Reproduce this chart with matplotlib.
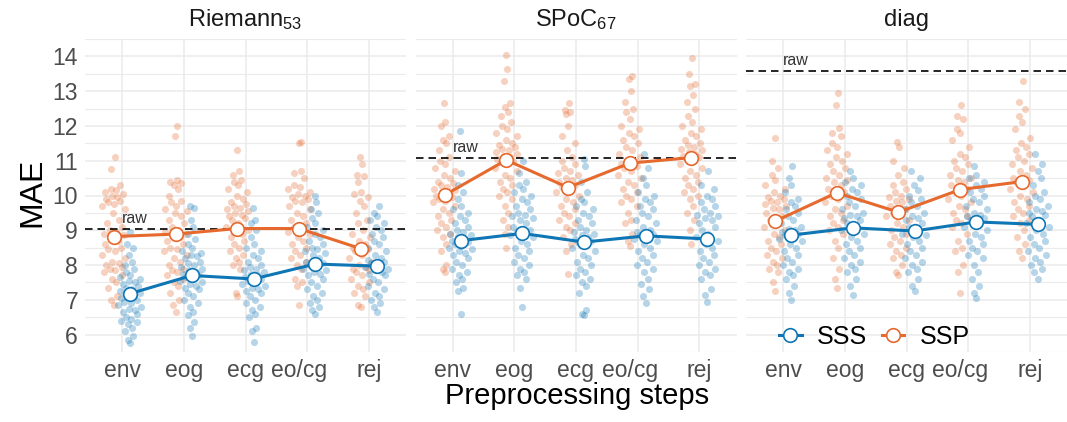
import numpy as np
import matplotlib
matplotlib.use("Agg")
import matplotlib.pyplot as plt
from matplotlib.lines import Line2D
from matplotlib.transforms import ScaledTranslation

plt.rcParams["font.family"] = ["Liberation Sans", "DejaVu Sans"]
plt.rcParams["mathtext.fontset"] = "custom"
plt.rcParams["mathtext.rm"] = "Liberation Sans"
plt.rcParams["mathtext.default"] = "regular"

# ---------------- data ----------------
steps = ["env", "eog", "ecg", "eo/cg", "rej"]
panel_titles = ["Riemann$_{53}$", "SPoC$_{67}$", "diag"]
raw_mae = [9.03, 11.08, 13.58]

mean_sss_riemann = [7.18, 7.70, 7.60, 8.03, 7.97]
mean_ssp_riemann = [8.82, 8.89, 9.05, 9.05, 8.47]
mean_sss_spoc = [8.70, 8.91, 8.66, 8.84, 8.75]
mean_ssp_spoc = [10.01, 11.02, 10.23, 10.93, 11.09]
mean_sss_diag = [8.86, 9.07, 8.98, 9.24, 9.17]
mean_ssp_diag = [9.26, 10.08, 9.52, 10.17, 10.40]

riemann_ssp = [
    [11.1, 10.75, 10.3, 10.2, 10.15, 10.1, 10.05, 10.0, 9.95, 9.9, 9.85, 9.8, 9.75, 9.7, 9.6, 9.5, 9.3, 9.2, 9.1, 9.0, 8.95, 8.9, 8.85, 8.8, 8.7, 8.6, 8.5, 8.45, 8.4, 8.3, 8.2, 8.1, 8.05, 8.0, 7.95, 7.9, 7.85, 7.8, 7.7, 7.6, 7.5, 7.35, 7.1, 7.0, 6.85],
    [12.0, 11.7, 10.45, 10.4, 10.35, 10.3, 10.2, 10.0, 9.85, 9.8, 9.7, 9.6, 9.55, 9.5, 9.4, 9.3, 9.2, 9.1, 9.0, 8.95, 8.9, 8.85, 8.8, 8.7, 8.6, 8.5, 8.45, 8.4, 8.3, 8.2, 8.1, 8.0, 7.9, 7.85, 7.8, 7.7, 7.6, 7.5, 7.4, 7.2, 7.0, 6.85, 6.65],
    [11.3, 10.7, 10.6, 10.45, 10.4, 10.3, 10.2, 10.1, 10.0, 9.9, 9.8, 9.75, 9.7, 9.65, 9.6, 9.55, 9.5, 9.45, 9.4, 9.35, 9.3, 9.2, 9.1, 9.0, 8.95, 8.9, 8.8, 8.7, 8.6, 8.5, 8.4, 8.3, 8.2, 8.1, 8.0, 7.9, 7.2, 7.1],
    [11.55, 11.5, 10.7, 10.65, 10.5, 10.3, 10.25, 10.2, 10.1, 10.05, 10.0, 9.95, 9.9, 9.85, 9.8, 9.7, 9.6, 9.5, 9.4, 9.3, 9.2, 9.1, 9.0, 8.95, 8.9, 8.8, 8.7, 8.6, 8.5, 8.4, 8.3, 8.2, 8.1, 8.0, 7.9, 7.6, 7.5, 7.4, 6.85],
    [11.1, 10.9, 10.6, 10.55, 10.4, 10.1, 10.05, 9.95, 9.85, 9.7, 9.5, 9.3, 9.2, 9.0, 8.9, 8.8, 8.7, 8.6, 8.5, 8.45, 8.4, 8.3, 8.2, 8.1, 8.0, 7.95, 7.9, 7.85, 7.8, 7.7, 7.6, 7.5, 7.4, 7.3, 7.2, 7.1, 6.85, 6.8],
]
riemann_sss = [
    [8.95, 8.6, 8.5, 8.3, 8.1, 8.0, 7.9, 7.8, 7.7, 7.65, 7.6, 7.55, 7.5, 7.45, 7.4, 7.35, 7.3, 7.25, 7.2, 7.15, 7.1, 7.05, 7.0, 6.95, 6.9, 6.85, 6.8, 6.75, 6.7, 6.65, 6.6, 6.5, 6.45, 6.4, 6.35, 6.3, 6.2, 6.1, 5.95, 5.85, 5.75],
    [9.7, 9.65, 9.3, 9.1, 8.9, 8.75, 8.6, 8.5, 8.4, 8.35, 8.3, 8.25, 8.2, 8.1, 8.05, 8.0, 7.95, 7.9, 7.85, 7.8, 7.75, 7.7, 7.65, 7.6, 7.55, 7.5, 7.45, 7.4, 7.35, 7.3, 7.2, 7.1, 7.0, 6.9, 6.8, 6.65, 6.55, 6.35, 6.2, 5.95],
    [9.65, 9.3, 9.2, 9.0, 8.8, 8.6, 8.5, 8.4, 8.3, 8.2, 8.1, 8.0, 7.95, 7.9, 7.85, 7.8, 7.75, 7.7, 7.65, 7.6, 7.55, 7.5, 7.45, 7.4, 7.35, 7.3, 7.25, 7.2, 7.1, 7.0, 6.9, 6.8, 6.7, 6.6, 6.5, 6.2, 6.1, 5.8],
    [10.0, 9.8, 9.6, 9.5, 9.35, 9.2, 9.1, 9.0, 8.9, 8.8, 8.7, 8.6, 8.5, 8.45, 8.4, 8.35, 8.3, 8.2, 8.1, 8.05, 8.0, 7.95, 7.9, 7.85, 7.8, 7.75, 7.7, 7.6, 7.5, 7.4, 7.3, 7.2, 7.1, 7.0, 6.9, 6.8, 6.7, 6.6],
    [9.7, 9.5, 9.4, 9.3, 9.2, 9.1, 9.0, 8.9, 8.8, 8.7, 8.6, 8.5, 8.4, 8.3, 8.2, 8.15, 8.1, 8.05, 8.0, 7.95, 7.9, 7.85, 7.8, 7.75, 7.7, 7.6, 7.5, 7.4, 7.3, 7.2, 7.1, 7.0, 6.9, 6.8, 6.65],
]
spoc_ssp = [
    [12.65, 12.1, 12.0, 11.7, 11.6, 11.5, 11.3, 11.1, 11.0, 10.9, 10.8, 10.7, 10.6, 10.5, 10.4, 10.35, 10.3, 10.25, 10.2, 10.15, 10.1, 10.05, 10.0, 9.95, 9.9, 9.85, 9.8, 9.7, 9.6, 9.5, 9.4, 9.3, 9.2, 9.1, 9.0, 8.9, 8.8, 8.6, 8.4, 8.0, 7.9, 7.8],
    [14.05, 13.65, 13.3, 12.65, 12.55, 12.4, 12.3, 12.1, 12.0, 11.9, 11.8, 11.7, 11.6, 11.5, 11.45, 11.4, 11.35, 11.3, 11.25, 11.2, 11.15, 11.1, 11.05, 11.0, 10.95, 10.9, 10.8, 10.7, 10.6, 10.5, 10.4, 10.3, 10.2, 10.1, 10.0, 9.9, 9.7, 9.5, 9.3, 9.1, 8.9, 8.5],
    [12.65, 12.45, 12.4, 12.35, 12.0, 11.7, 11.5, 11.3, 11.1, 11.0, 10.9, 10.8, 10.7, 10.65, 10.6, 10.5, 10.45, 10.4, 10.3, 10.25, 10.2, 10.1, 10.0, 9.9, 9.8, 9.7, 9.6, 9.5, 9.4, 9.3, 9.2, 9.1, 9.0, 8.8, 8.6, 8.4, 7.75],
    [13.45, 13.35, 13.0, 12.7, 12.5, 12.4, 12.2, 12.0, 11.9, 11.8, 11.7, 11.6, 11.5, 11.4, 11.3, 11.2, 11.1, 11.0, 10.95, 10.9, 10.85, 10.8, 10.7, 10.6, 10.5, 10.4, 10.3, 10.2, 10.1, 10.0, 9.9, 9.8, 9.7, 9.5, 9.3, 9.2, 8.9, 8.7, 8.55],
    [13.95, 13.5, 13.2, 13.15, 12.9, 12.7, 12.5, 12.3, 12.1, 12.0, 11.9, 11.8, 11.7, 11.6, 11.5, 11.45, 11.4, 11.35, 11.3, 11.25, 11.2, 11.15, 11.1, 11.05, 11.0, 10.9, 10.8, 10.7, 10.6, 10.5, 10.4, 10.3, 10.2, 10.1, 10.0, 9.9, 9.7, 9.5, 9.3, 9.0, 8.6],
]
spoc_sss = [
    [11.85, 10.65, 10.3, 10.1, 9.9, 9.7, 9.6, 9.5, 9.4, 9.3, 9.2, 9.1, 9.0, 8.95, 8.9, 8.85, 8.8, 8.75, 8.7, 8.65, 8.6, 8.55, 8.5, 8.45, 8.4, 8.35, 8.3, 8.2, 8.1, 8.0, 7.9, 7.8, 7.7, 7.6, 7.5, 7.35, 7.25, 6.6],
    [11.0, 10.65, 10.4, 10.3, 10.2, 10.1, 10.0, 9.9, 9.8, 9.7, 9.6, 9.5, 9.45, 9.4, 9.35, 9.3, 9.2, 9.1, 9.0, 8.95, 8.9, 8.85, 8.8, 8.7, 8.6, 8.5, 8.4, 8.3, 8.2, 8.1, 8.0, 7.9, 7.8, 7.7, 7.6, 7.35, 6.8],
    [11.05, 10.85, 10.4, 10.1, 9.9, 9.8, 9.7, 9.6, 9.5, 9.4, 9.3, 9.2, 9.1, 9.0, 8.95, 8.9, 8.85, 8.8, 8.75, 8.7, 8.65, 8.6, 8.5, 8.4, 8.3, 8.2, 8.1, 8.0, 7.9, 7.8, 7.7, 7.6, 7.5, 7.4, 7.2, 6.7, 6.6, 6.55],
    [11.2, 10.8, 10.5, 10.3, 10.1, 10.0, 9.9, 9.8, 9.7, 9.6, 9.5, 9.4, 9.3, 9.2, 9.1, 9.0, 8.95, 8.9, 8.85, 8.8, 8.75, 8.7, 8.6, 8.5, 8.4, 8.3, 8.2, 8.1, 8.0, 7.9, 7.8, 7.6, 7.45, 7.3, 7.1, 6.9],
    [10.7, 10.3, 10.2, 10.0, 9.9, 9.8, 9.7, 9.6, 9.5, 9.45, 9.4, 9.35, 9.3, 9.2, 9.1, 9.0, 8.9, 8.8, 8.7, 8.6, 8.5, 8.4, 8.3, 8.2, 8.1, 8.0, 7.9, 7.8, 7.7, 7.6, 7.3, 7.15, 6.95],
]
diag_ssp = [
    [11.65, 11.0, 10.8, 10.6, 10.45, 10.3, 10.2, 10.1, 10.0, 9.95, 9.9, 9.85, 9.8, 9.75, 9.7, 9.65, 9.6, 9.5, 9.4, 9.3, 9.2, 9.1, 9.0, 8.9, 8.8, 8.7, 8.6, 8.5, 8.4, 8.3, 8.2, 8.1, 8.0, 7.9, 7.8, 7.5, 7.25],
    [12.95, 12.6, 11.95, 11.8, 11.7, 11.5, 11.4, 11.3, 11.2, 11.1, 11.0, 10.9, 10.8, 10.7, 10.6, 10.5, 10.45, 10.4, 10.3, 10.2, 10.1, 10.0, 9.9, 9.8, 9.7, 9.6, 9.5, 9.4, 9.3, 9.2, 9.1, 9.0, 8.9, 8.7, 8.5, 8.2, 7.9, 7.6, 7.35],
    [11.55, 11.4, 11.0, 10.8, 10.6, 10.4, 10.3, 10.2, 10.1, 10.0, 9.95, 9.9, 9.85, 9.8, 9.7, 9.6, 9.5, 9.45, 9.4, 9.3, 9.2, 9.1, 9.0, 8.9, 8.8, 8.7, 8.6, 8.5, 8.4, 8.3, 8.2, 8.0, 7.8, 7.7],
    [12.6, 12.3, 12.2, 11.9, 11.8, 11.6, 11.4, 11.2, 11.1, 11.0, 10.9, 10.8, 10.7, 10.6, 10.5, 10.45, 10.4, 10.3, 10.2, 10.1, 10.0, 9.9, 9.8, 9.7, 9.6, 9.5, 9.4, 9.3, 9.2, 9.1, 8.9, 8.7, 8.5, 8.4, 8.0, 7.8, 7.2],
    [13.3, 12.7, 12.5, 12.3, 12.1, 11.9, 11.65, 11.5, 11.4, 11.3, 11.2, 11.1, 11.0, 10.9, 10.8, 10.7, 10.6, 10.5, 10.45, 10.4, 10.3, 10.2, 10.1, 10.0, 9.9, 9.8, 9.7, 9.6, 9.5, 9.4, 9.3, 9.2, 9.0, 8.8, 8.6, 8.4, 8.2],
]
diag_sss = [
    [10.85, 10.5, 10.3, 10.1, 9.9, 9.8, 9.7, 9.6, 9.5, 9.4, 9.3, 9.2, 9.1, 9.05, 9.0, 8.95, 8.9, 8.85, 8.8, 8.75, 8.7, 8.6, 8.5, 8.4, 8.3, 8.2, 8.1, 8.0, 7.9, 7.8, 7.7, 7.6, 7.4, 7.2, 7.0],
    [10.7, 10.5, 10.4, 10.3, 10.2, 10.1, 10.0, 9.9, 9.8, 9.7, 9.6, 9.5, 9.45, 9.4, 9.35, 9.3, 9.2, 9.1, 9.0, 8.9, 8.8, 8.7, 8.6, 8.5, 8.4, 8.3, 8.2, 8.1, 8.0, 7.9, 7.8, 7.6, 7.4, 7.15],
    [10.7, 10.5, 10.3, 10.15, 10.0, 9.9, 9.8, 9.7, 9.6, 9.5, 9.4, 9.35, 9.3, 9.2, 9.1, 9.0, 8.9, 8.85, 8.8, 8.7, 8.6, 8.5, 8.4, 8.3, 8.2, 8.1, 8.0, 7.9, 7.8, 7.6, 7.4, 7.25],
    [10.85, 10.6, 10.5, 10.4, 10.3, 10.2, 10.1, 10.0, 9.9, 9.8, 9.7, 9.6, 9.5, 9.45, 9.4, 9.35, 9.3, 9.2, 9.1, 9.0, 8.9, 8.8, 8.7, 8.6, 8.5, 8.4, 8.3, 8.2, 8.0, 7.8, 7.6, 7.4, 7.2, 7.05],
    [11.2, 10.9, 10.7, 10.5, 10.3, 10.1, 10.0, 9.9, 9.8, 9.7, 9.6, 9.55, 9.5, 9.45, 9.4, 9.3, 9.2, 9.1, 9.0, 8.9, 8.8, 8.7, 8.6, 8.5, 8.4, 8.3, 8.2, 8.1, 8.0, 7.9, 7.8, 7.6],
]

# ---------------- style ----------------
C_SSS = "#0F76B5"
C_SSP = "#E6692D"
GRID = "#EBEBEB"
W, H = 1067, 422
YLIM = (5.61, 14.39)
XLIM = (0.4, 5.6)
DODGE = 0.13
HALF_WIDTH = 0.21

fig = plt.figure(figsize=(W / 100, H / 100), dpi=100)
fig.patch.set_facecolor("white")

panel_left = [85, 415.5, 746]
panel_w = 321
panel_top, panel_bot = 39, 352
ppu_y = (panel_bot - panel_top) / (YLIM[1] - YLIM[0])


def van_der_corput(n, base=2):
    q, denom = 0.0, 1.0
    while n:
        denom *= base
        n, r = divmod(n, base)
        q += r / denom
    return q


def quasirandom_offsets(vals):
    # deterministic quasirandom layout (van der Corput sequence scaled by density)
    v = np.asarray(vals, dtype=float)
    n = len(v)
    bw = 1.06 * v.std() * n ** (-0.2)
    dens = np.exp(-0.5 * ((v[:, None] - v[None, :]) / bw) ** 2).sum(axis=1)
    dens = dens / dens.max()
    order = np.argsort(v)
    offs = np.zeros(n)
    for rank, i in enumerate(order):
        offs[i] = (van_der_corput(rank + 1) - 0.5) * 2 * HALF_WIDTH * dens[i]
    return offs


all_ssp = [riemann_ssp, spoc_ssp, diag_ssp]
all_sss = [riemann_sss, spoc_sss, diag_sss]
all_mean_ssp = [mean_ssp_riemann, mean_ssp_spoc, mean_ssp_diag]
all_mean_sss = [mean_sss_riemann, mean_sss_spoc, mean_sss_diag]

xpos = np.arange(1, len(steps) + 1)
axes = []
for p in range(3):
    ax = fig.add_axes([panel_left[p] / W, 1 - panel_bot / H, panel_w / W,
                       (panel_bot - panel_top) / H])
    axes.append(ax)
    ax.set_xlim(*XLIM)
    ax.set_ylim(*YLIM)
    ax.set_facecolor("white")
    for s in ax.spines.values():
        s.set_visible(False)
    ax.set_yticks(range(6, 15))
    ax.set_yticks(np.arange(5.5, 14.6, 1.0), minor=True)
    ax.set_xticks(xpos)
    ax.set_xticklabels(steps)
    ax.grid(True, which="major", color=GRID, linewidth=1.1, zorder=0)
    ax.grid(True, which="minor", axis="y", color=GRID, linewidth=0.8, zorder=0)
    ax.set_axisbelow(True)
    ax.tick_params(axis="both", which="both", length=0, labelsize=16.5,
                   labelcolor="#4D4D4D")
    ax.tick_params(axis="x", pad=5)
    ax.tick_params(axis="y", pad=5)
    if p > 0:
        ax.tick_params(axis="y", labelleft=False)
    lab = ax.get_xticklabels()[3]
    lab.set_transform(lab.get_transform() +
                      ScaledTranslation(-8 / 100, 0, fig.dpi_scale_trans))

    for k in range(len(steps)):
        vs = all_ssp[p][k]
        ax.scatter(xpos[k] - DODGE + quasirandom_offsets(vs), vs, s=26,
                   color=C_SSP, alpha=0.3, linewidths=0, zorder=2)
        vb = all_sss[p][k]
        ax.scatter(xpos[k] + DODGE + quasirandom_offsets(vb), vb, s=26,
                   color=C_SSS, alpha=0.3, linewidths=0, zorder=2)

    ax.axhline(raw_mae[p], color="black", linestyle=(0, (4.5, 3)),
               linewidth=1.2, zorder=3)
    ax.text(1, raw_mae[p] + 11 / ppu_y, "raw", fontsize=11.5, color="#333333",
            ha="left", va="center", zorder=3)

    ax.plot(xpos - DODGE, all_mean_ssp[p], color=C_SSP, linewidth=2.2,
            marker="o", markersize=9.8, markerfacecolor="white",
            markeredgecolor=C_SSP, markeredgewidth=1.2, zorder=4)
    ax.plot(xpos + DODGE, all_mean_sss[p], color=C_SSS, linewidth=2.2,
            marker="o", markersize=9.8, markerfacecolor="white",
            markeredgecolor=C_SSS, markeredgewidth=1.2, zorder=5)

    ax.text(0.5, 1 + 19 / (panel_bot - panel_top), panel_titles[p],
            transform=ax.transAxes, ha="center", va="center", fontsize=17,
            color="#1A1A1A")

handles = [
    Line2D([], [], color=C_SSS, linewidth=2.2, marker="o", markersize=9.8,
           markerfacecolor="white", markeredgecolor=C_SSS, markeredgewidth=1.2),
    Line2D([], [], color=C_SSP, linewidth=2.2, marker="o", markersize=9.8,
           markerfacecolor="white", markeredgecolor=C_SSP, markeredgewidth=1.2),
]
axes[2].legend(handles, ["SSS", "SSP"], loc="center",
               bbox_to_anchor=(0.40, 0.048), ncol=2, frameon=False,
               fontsize=18, handlelength=0.9, handletextpad=0.6,
               columnspacing=0.6, borderpad=0.1)

fig.text(32 / W, 1 - 192 / H, "MAE", rotation=90, ha="center", va="center",
         fontsize=23, color="black")
fig.text(577 / W, 1 - 396 / H, "Preprocessing steps", ha="center",
         va="center", fontsize=21, color="black")

fig.savefig("out.png", dpi=100, facecolor="white")
